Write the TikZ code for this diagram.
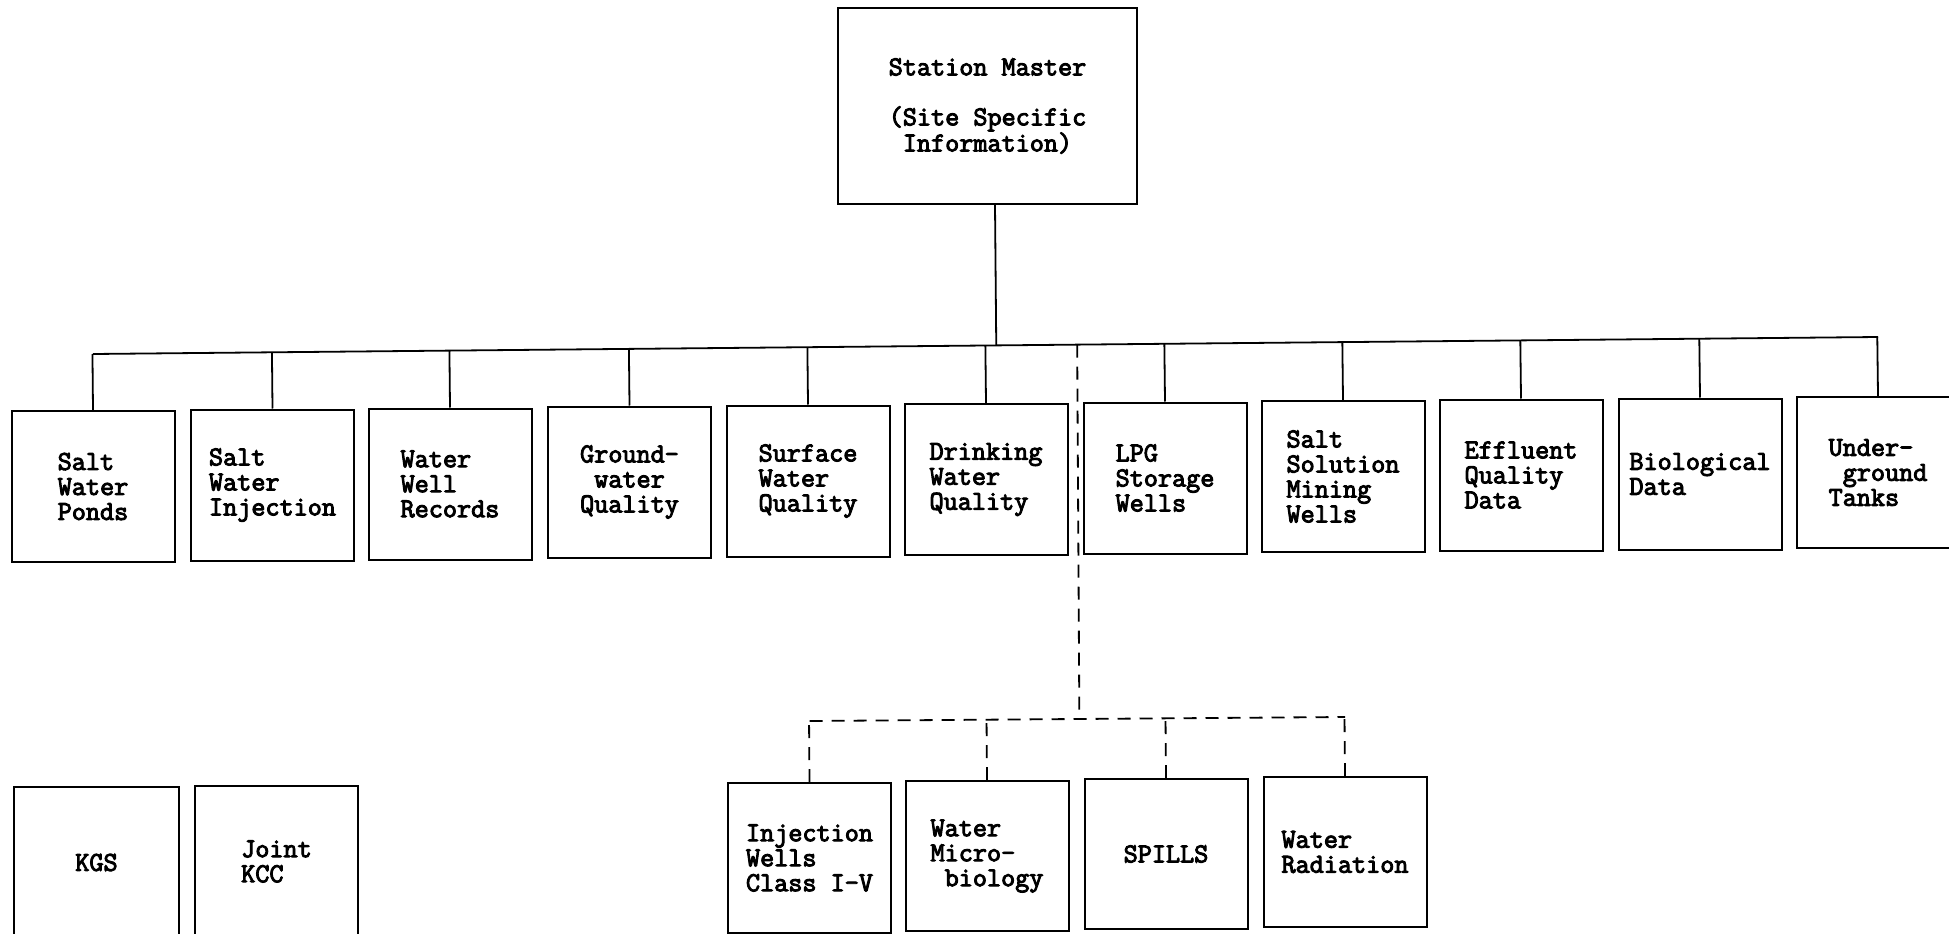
\documentclass[tikz,border=0pt]{standalone}
\usepackage{fontspec}
\newfontfamily\tw{Latin Modern Mono}[AutoFakeBold=3.5]
\usetikzlibrary{calc}
\begin{document}
\begin{tikzpicture}[x=1pt,y=-1pt,
  box/.style={draw,line width=2pt,minimum width=163pt,minimum height=151pt,inner sep=0pt,align=left,
    font=\tw\bfseries\fontsize{27.4}{25}\selectfont},
  sub/.style={box,minimum height=150pt},
  conn/.style={line width=1.8pt},
  dconn/.style={line width=1.8pt,dash pattern=on 13pt off 9pt}]
\clip (0,0) rectangle (1949,934);
\fill[white] (0,0) rectangle (1949,934);
% master
\node[box,minimum width=299pt,minimum height=196pt,align=center] (M) at (987.5,106)
  {Station Master\\[25pt](Site Specific\\Information)};
% first row
\node[box] (b1) at (93,486.5) {Salt\\Water\\Ponds};
\node[box] (b2) at (272.5,485) {Salt\\Water\\Injection};
\node[box] (b3) at (450,484) {Water\\Well\\Records};
\node[box] (b4) at (629.5,482) {Ground-\\\hphantom{G}water\\Quality};
\node[box] (b5) at (808,481) {Surface\\Water\\Quality};
\node[box] (b6) at (986,479.5) {Drinking\\Water\\Quality};
\node[box] (b7) at (1165,478) {LPG\\Storage\\Wells};
\node[box] (b8) at (1343,476.5) {Salt\\Solution\\Mining\\Wells};
\node[box] (b9) at (1521,475) {Effluent\\Quality\\Data};
\node[box] (b10) at (1700,474) {Biological\\Data};
\node[box] (b11) at (1878,472.5) {Under-\\\hphantom{U}ground\\Tanks};
% sub row
\node[sub] (s1) at (809.5,858) {Injection\\Wells\\Class I-V};
\node[sub] (s2) at (987,856) {Water\\Micro-\\\hphantom{M}biology};
\node[sub] (s3) at (1166,854) {SPILLS};
\node[sub] (s4) at (1345,852) {Water\\Radiation};
% stand-alone boxes
\node[box,minimum width=165pt] (k1) at (96.5,862.5) {KGS};
\node[box] (k2) at (276.5,861.5) {Joint\\KCC};
% bus
\coordinate (busL) at (93,354);
\coordinate (busR) at (1878,337);
\draw[conn] (busL) -- (busR);
\foreach \i in {1,...,11} \draw[conn] (b\i.north) -- ($(busL)!(b\i.north)!(busR)$);
\coordinate (ms) at ($(M.south)+(7.5,0)$);
\draw[conn] (ms) -- ($(busL)!(ms)!(busR)$);
% dashed branch
\coordinate (dtop) at ($(busL)!(1074,0)!(busR)$);
\coordinate (sL) at (809.5,721);
\coordinate (sR) at (1345,717);
\coordinate (dj) at ($(sL)!(1074,0)!(sR)$);
\draw[dconn] (dtop) -- (dj);
\draw[dconn] (sL) -- (sR);
\foreach \i in {1,...,4} \draw[dconn] (s\i.north) -- ($(sL)!(s\i.north)!(sR)$);
\end{tikzpicture}
\end{document}
